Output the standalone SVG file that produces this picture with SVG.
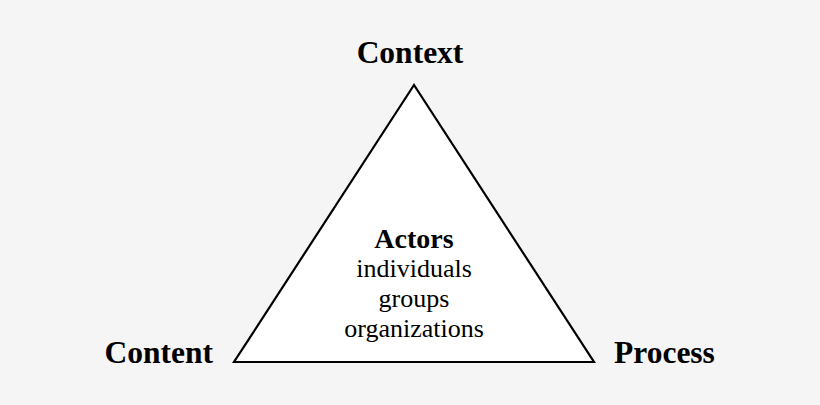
<svg xmlns="http://www.w3.org/2000/svg" width="820" height="405" viewBox="0 0 820 405">
<style>
.lbl{font-family:"Liberation Serif","Times New Roman",serif;font-weight:bold;font-size:31.5px;fill:#000}
.in{font-family:"Liberation Serif","Times New Roman",serif;font-size:26px;fill:#000;text-anchor:middle}
</style>
<rect width="820" height="405" fill="#f5f5f5"/>
<g id="triangle">
<polygon points="414,85 234,362 594,362" fill="#fff" stroke="#000" stroke-width="2.2" stroke-linejoin="miter"/>
<text class="in" x="414" y="248" style="font-weight:bold;font-size:28px">Actors</text>
<text class="in" x="414" y="277">individuals</text>
<text class="in" x="414" y="307">groups</text>
<text class="in" x="414" y="337">organizations</text>
</g>
<g id="context"><text class="lbl" x="410" y="63" text-anchor="middle">Context</text></g>
<g id="content"><text class="lbl" x="213" y="363" text-anchor="end">Content</text></g>
<g id="process"><text class="lbl" x="614" y="363">Process</text></g>
</svg>
